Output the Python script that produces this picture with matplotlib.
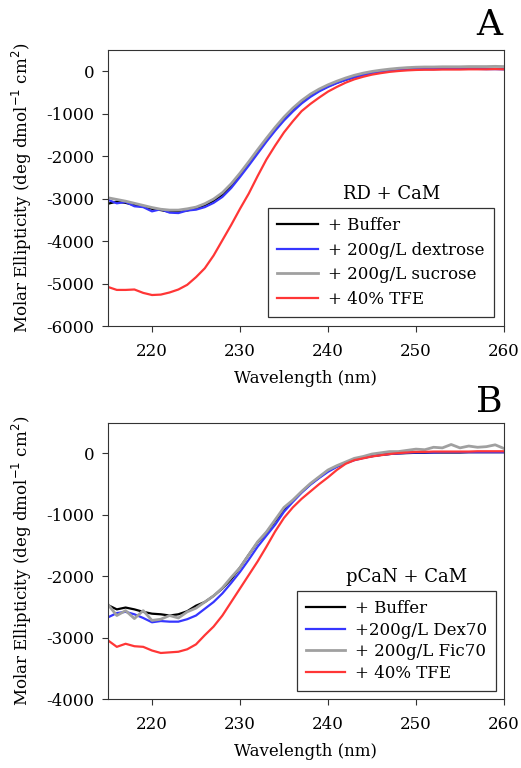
import matplotlib
matplotlib.use('Agg')
import matplotlib.pyplot as plt

# Wavelength grid (nm)
wavelength = list(range(215, 261))

# Panel A: RD + CaM
rd_buffer = [-3120, -3070, -3100, -3150, -3190, -3240, -3270, -3310, -3300, -3280,
             -3230, -3155, -3050, -2910, -2700, -2440, -2170, -1900, -1620, -1360,
             -1120, -910, -725, -575, -455, -355, -270, -200, -140, -85,
             -45, -10, 15, 35, 45, 55,
             55, 55, 60, 60, 60, 60, 60, 55, 55, 55]
rd_dextrose = [-3030, -3110, -3080, -3180, -3200, -3300, -3250, -3330, -3340, -3280,
               -3260, -3200, -3100, -2960, -2750, -2490, -2220, -1940, -1660, -1400,
               -1160, -950, -760, -605, -475, -370, -280, -205, -140, -90,
               -50, -15, 10, 30, 40, 50,
               50, 50, 55, 55, 55, 55, 55, 50, 50, 45]
rd_sucrose = [-2980, -3020, -3060, -3110, -3160, -3210, -3250, -3270, -3270, -3240,
              -3200, -3120, -3010, -2860, -2650, -2400, -2130, -1850, -1580, -1320,
              -1080, -870, -690, -540, -420, -320, -235, -160, -95, -45,
              -5, 25, 50, 70, 85, 95,
              100, 100, 105, 105, 105, 110, 110, 110, 115, 110]
rd_tfe = [-5080, -5150, -5150, -5140, -5220, -5270, -5260, -5210, -5140, -5030,
          -4850, -4640, -4340, -3980, -3620, -3240, -2880, -2470, -2080, -1750,
          -1440, -1180, -940, -770, -620, -480, -370, -270, -190, -130,
          -80, -45, -15, 5, 20, 30,
          35, 35, 40, 40, 40, 45, 45, 45, 50, 45]
labels_a = ['+ Buffer', '+ 200g/L dextrose', '+ 200g/L sucrose', '+ 40% TFE']

# Panel B: pCaN + CaM
pcan_buffer = [-2470, -2540, -2510, -2540, -2580, -2610, -2620, -2640, -2620, -2570,
               -2480, -2420, -2320, -2200, -2050, -1860, -1650, -1450, -1290, -1100,
               -930, -770, -630, -500, -390, -280, -210, -150, -100, -70,
               -45, -25, -10, 0, 5, 10,
               10, 15, 15, 15, 15, 20, 20, 20, 20, 20]
pcan_dex70 = [-2670, -2600, -2580, -2620, -2680, -2750, -2730, -2740, -2740, -2700,
              -2640, -2530, -2420, -2280, -2110, -1930, -1730, -1520, -1340, -1160,
              -950, -790, -640, -510, -400, -300, -220, -160, -110, -75,
              -45, -25, -10, 0, 10, 15,
              15, 15, 20, 20, 20, 20, 20, 20, 20, 20]
pcan_fic70 = [-2460, -2640, -2560, -2690, -2560, -2720, -2700, -2640, -2680, -2580,
              -2520, -2420, -2320, -2190, -2020, -1860, -1650, -1440, -1280, -1080,
              -880, -760, -620, -490, -380, -270, -200, -140, -80, -50,
              -10, 10, 30, 30, 50, 70,
              60, 100, 90, 145, 90, 120, 100, 110, 140, 80]
pcan_tfe = [-3045, -3150, -3100, -3140, -3150, -3210, -3250, -3240, -3230, -3190,
            -3110, -2960, -2820, -2640, -2420, -2200, -1980, -1760, -1520, -1270,
            -1050, -880, -740, -620, -500, -390, -270, -170, -110, -80,
            -50, -30, -10, 5, 15, 25,
            25, 30, 30, 30, 30, 30, 35, 35, 35, 35]
labels_b = ['+ Buffer', '+200g/L Dex70', '+ 200g/L Fic70', '+ 40% TFE']

colors = ['#000000', '#3636ff', '#a0a0a0', '#ff3636']
widths = [1.6, 1.6, 2.0, 1.6]

plt.rcParams['font.family'] = ['DejaVu Serif']
plt.rcParams['axes.unicode_minus'] = False


def draw_panel(ax, series, labels, title, ymin, yticks, leg_anchor, title_xy,
               spacing, handle_len):
    for y, lab, c, lw in zip(series, labels, colors, widths):
        ax.plot(wavelength, y, color=c, lw=lw, label=lab)
    ax.set_xlim(215, 260)
    ax.set_ylim(ymin, 500)
    ax.set_xticks([220, 230, 240, 250, 260])
    ax.set_yticks(yticks)
    ax.tick_params(labelsize=12, length=4, width=0.8, color='#333333')
    ax.tick_params(axis='x', pad=8.5)
    ax.tick_params(axis='y', pad=6)
    for s in ax.spines.values():
        s.set_color('#333333')
        s.set_linewidth(0.8)
    ax.set_xlabel('Wavelength (nm)', fontsize=12, labelpad=7)
    ax.set_ylabel('Molar Ellipticity (deg dmol$^{-1}$ cm$^{2}$)', fontsize=12)
    ax.yaxis.set_label_coords(-0.187, 0.5)
    leg = ax.legend(loc='lower right', bbox_to_anchor=leg_anchor, borderaxespad=0,
                    fontsize=12, handlelength=handle_len, labelspacing=spacing,
                    fancybox=False, framealpha=1, edgecolor='#333333',
                    borderpad=0.55, handletextpad=0.6)
    leg.get_frame().set_linewidth(0.9)
    ax.text(title_xy[0], title_xy[1], title, transform=ax.transAxes,
            fontsize=13, ha='center', va='center')


fig = plt.figure(figsize=(5.21, 7.68), dpi=100)
ax_a = fig.add_axes([0.2073, 0.5755, 0.760, 0.3594])
ax_b = fig.add_axes([0.2073, 0.0898, 0.760, 0.3598])

draw_panel(ax_a, [rd_buffer, rd_dextrose, rd_sucrose, rd_tfe], labels_a, 'RD + CaM',
           -6000, [0, -1000, -2000, -3000, -4000, -5000, -6000], (0.975, 0.033), (0.717, 0.478),
           0.45, 2.5)
draw_panel(ax_b, [pcan_buffer, pcan_dex70, pcan_fic70, pcan_tfe], labels_b, 'pCaN + CaM',
           -4000, [0, -1000, -2000, -3000, -4000], (0.98, 0.029), (0.755, 0.44),
           0.28, 2.3)

# Panel letters
fig.text(0.94, 0.967, 'A', fontsize=26, ha='center', va='center')
fig.text(0.94, 0.477, 'B', fontsize=26, ha='center', va='center')

fig.savefig('out.png', dpi=100)
